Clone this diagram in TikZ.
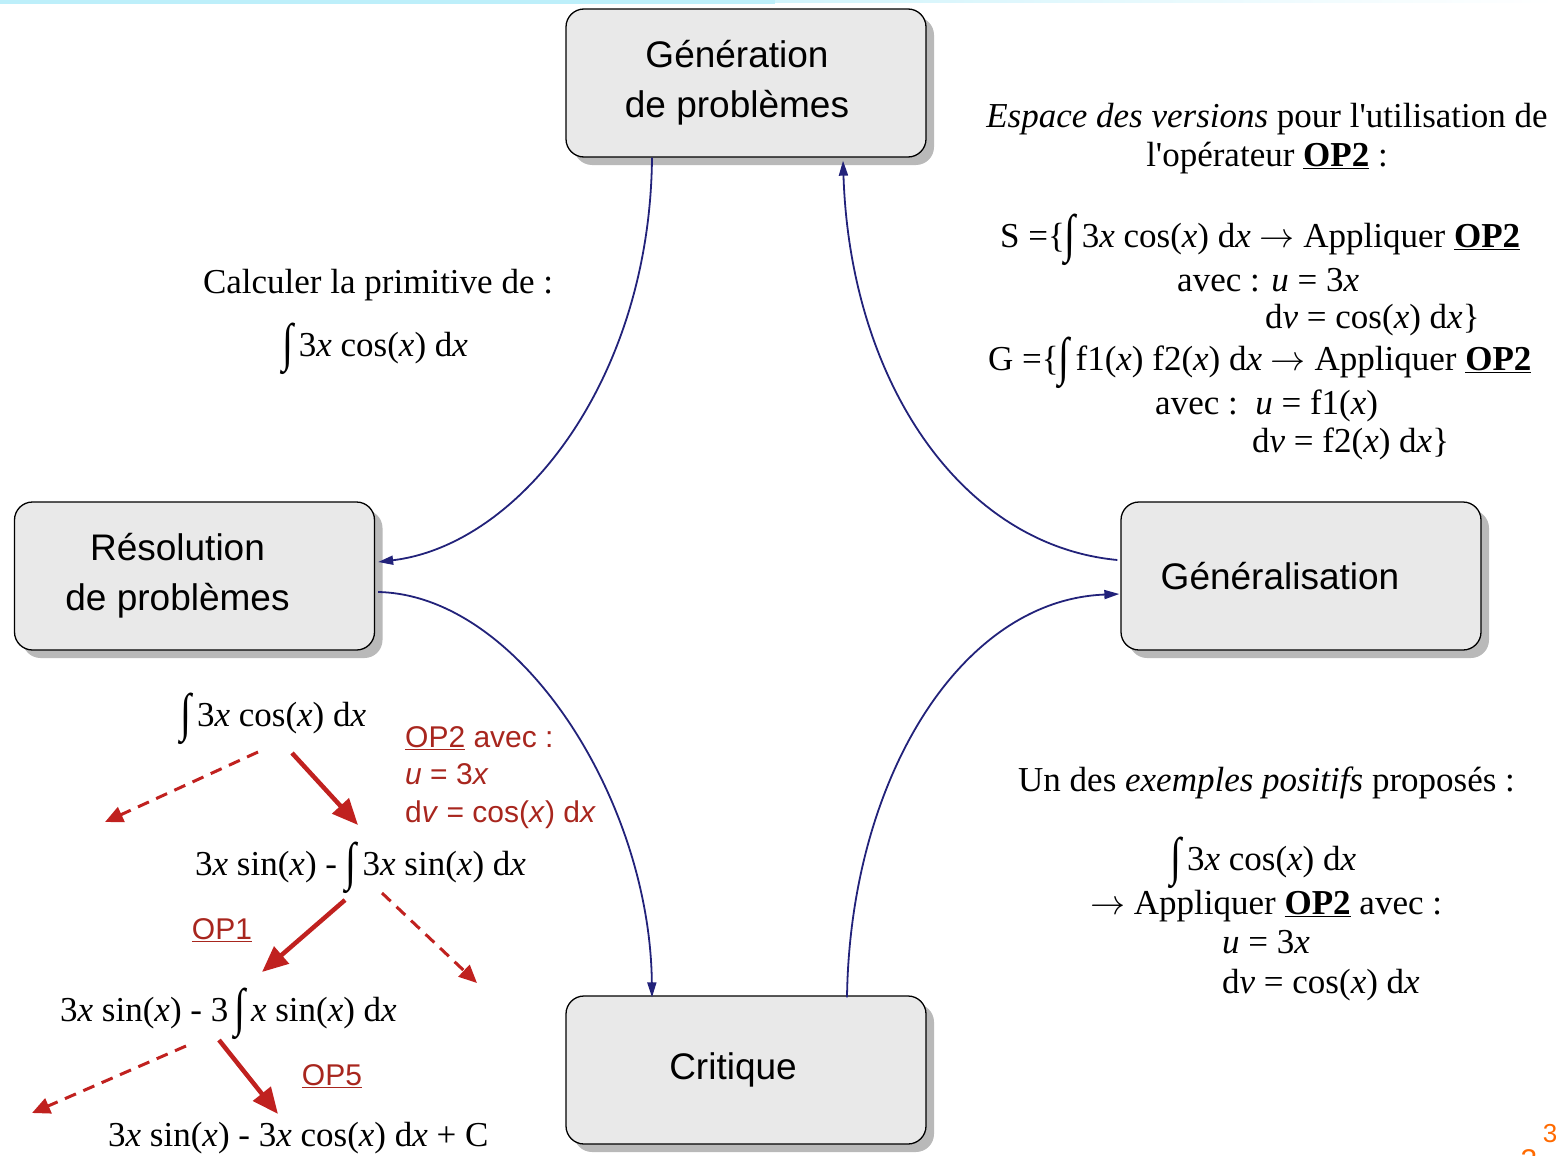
\RequirePackage{fix-cm}
\documentclass[tikz,border=0pt]{standalone}
\usepackage{fontspec}
\usepackage{graphicx}
\setmainfont{Liberation Serif}[Ligatures=TeXOff]
\newfontfamily\boxfont{Liberation Sans}
\usetikzlibrary{arrows.meta,shadows}
\definecolor{navyarr}{HTML}{22227A}
\definecolor{redarr}{HTML}{C0211F}
\definecolor{redtxt}{HTML}{A8261E}
\definecolor{boxfill}{HTML}{E9E9E9}
\definecolor{topcyan}{HTML}{BDEFFA}
\definecolor{orangeno}{HTML}{FF6A00}
\newcommand{\integ}{\raisebox{-0.14em}{\scalebox{1.15}[1.5]{∫}}}
\newcommand{\opb}[1]{\underline{\textbf{#1}}}
\newcommand{\ix}{\textit{x}}
\newcommand{\arr}{$\rightarrow$}
\newcommand{\shl}[1]{\hspace*{-#1pt}}
\begin{document}
\begin{tikzpicture}[x=1pt,y=-1pt,
  procbox/.style={draw=black, line width=1.3pt, fill=boxfill, rounded corners=18pt,
    minimum width=360pt, minimum height=148pt, align=center, inner sep=0pt,
    font=\boxfont\fontsize{37}{50}\selectfont,
    drop shadow={shadow xshift=8pt, shadow yshift=-8pt, fill=gray!55, opacity=1}},
  tx/.style={inner sep=0pt, font=\fontsize{35}{40}\selectfont, text height=24pt, text depth=8pt},
  rtx/.style={inner sep=0pt, text=redtxt, font=\boxfont\fontsize{30}{34}\selectfont, text height=21pt, text depth=6pt},
  conn/.style={draw=navyarr, line width=1.8pt, -{Triangle[length=15pt,width=9pt]}},
  redsolid/.style={draw=redarr, line width=4.5pt, -{Triangle[length=26pt,width=22pt]}},
  reddash/.style={draw=redarr, line width=3pt, dash pattern=on 12pt off 8pt, -{Triangle[length=18pt,width=16pt]}}
]
\path[use as bounding box] (0,0) rectangle (1556,1156);
% top band
\fill[topcyan] (0,0) rectangle (775,4);
\shade[left color=topcyan!70, right color=white] (775,0) rectangle (1556,3);

% boxes
\node[procbox] (gen) at (746,83) {\shl{18}Génération\\\shl{18}de problèmes};
\node[procbox] (res) at (194.5,576) {\shl{34}Résolution\\\shl{34}de problèmes};
\node[procbox] (gnl) at (1301,576) {\shl{42}Généralisation};
\node[procbox] (cri) at (746,1070) {\shl{26}Critique};

% connectors
\draw[conn] ([xshift=-94pt]gen.south) .. controls (650,380) and (520,545) .. ([xshift=3pt,yshift=14pt]res.east);
\draw[conn] ([xshift=-3pt,yshift=16pt]gnl.west) .. controls (960,545) and (850,380) .. ([xshift=97pt,yshift=-3pt]gen.south);
\draw[conn] ([xshift=3pt,yshift=-16pt]res.east) .. controls (520,595) and (650,800) .. ([xshift=-94pt,yshift=-2pt]cri.north);
\draw[conn] ([xshift=101pt,yshift=-2pt]cri.north) .. controls (850,780) and (960,600) .. ([xshift=-1pt,yshift=-18pt]gnl.west);

% left text
\node[tx] (calc) at (378,285) {Calculer la primitive de :};
\node[tx] (calcint) at (375,348) {\integ\,3\ix{} cos(\ix) d\ix};

% top right text
\node[tx] (esp1) at (1267,120) {\textit{Espace des versions} pour l'utilisation de};
\node[tx] (esp2) at (1267,158) {l'opérateur \opb{OP2} :};
\node[tx,anchor=west] (s1) at (1000,239) {S =\{\integ\,3\ix{} cos(\ix) d\ix{} \arr{} Appliquer \opb{OP2}};
\node[tx,anchor=west] (s2) at (1177,283) {avec : \textit{u} = 3\ix};
\node[tx,anchor=west] (s3) at (1265,320) {d\textit{v} = cos(\ix) d\ix\}};
\node[tx,anchor=west] (g1) at (988,362) {G =\{\integ\,f1(\ix) f2(\ix) d\ix{} \arr{} Appliquer \opb{OP2}};
\node[tx,anchor=west] (g2) at (1155,406) {avec :\ \ \textit{u} = f1(\ix)};
\node[tx,anchor=west] (g3) at (1252,444) {d\textit{v} = f2(\ix) d\ix\}};

% bottom right text
\node[tx,anchor=west] (ex1) at (1018,783) {Un des \textit{exemples positifs} proposés :};
\node[tx,anchor=west] (ex2) at (1170,862) {\integ\,3\ix{} cos(\ix) d\ix};
\node[tx,anchor=west] (ex3) at (1090,906) {\arr{} Appliquer \opb{OP2} avec :};
\node[tx,anchor=west] (ex4) at (1222,945) {\textit{u} = 3\ix};
\node[tx,anchor=west] (ex5) at (1222,985) {d\textit{v} = cos(\ix) d\ix};

% tree
\node[tx,anchor=west] (t1) at (180,718) {\integ\,3\ix{} cos(\ix) d\ix};
\node[rtx,anchor=west] (r1) at (405,740) {\underline{OP2} avec :};
\node[rtx,anchor=west] (r2) at (405,777) {\textit{u} = 3\textit{x}};
\node[rtx,anchor=west] (r3) at (405,815) {d\textit{v} = cos(\textit{x}) d\textit{x}};
\node[tx,anchor=west] (t2) at (195,867) {3\ix{} sin(\ix) - \integ\,3\ix{} sin(\ix) d\ix};
\node[rtx] (op1) at (222,932) {\underline{OP1}};
\node[tx,anchor=west] (t3) at (60,1013) {3\ix{} sin(\ix) - 3\,\integ\,\ix{} sin(\ix) d\ix};
\node[rtx] (op5) at (332,1078) {\underline{OP5}};
\node[tx,anchor=west] (t4) at (108,1138) {3\ix{} sin(\ix) - 3\ix{} cos(\ix) d\ix{} + C};

\coordinate (a1s) at (292,753); \coordinate (a1e) at (358,825);
\coordinate (d1s) at (258,752); \coordinate (d1e) at (105,822);
\coordinate (a2s) at (345,900); \coordinate (a2e) at (262,972);
\coordinate (d2s) at (382,893); \coordinate (d2e) at (477,983);
\coordinate (d3s) at (186,1046); \coordinate (d3e) at (32,1113);
\coordinate (a3s) at (219,1040); \coordinate (a3e) at (278,1114);
\draw[redsolid] (a1s) -- (a1e);
\draw[reddash] (d1s) -- (d1e);
\draw[redsolid] (a2s) -- (a2e);
\draw[reddash] (d2s) -- (d2e);
\draw[reddash] (d3s) -- (d3e);
\draw[redsolid] (a3s) -- (a3e);

% page number fragment
\node[text=orangeno, font=\boxfont\fontsize{30}{30}\selectfont, inner sep=0pt] (pn1) at (1529,1160) {3};
\node[text=orangeno, font=\boxfont\fontsize{26}{26}\selectfont, inner sep=0pt] (pn2) at (1550,1134) {3};
\end{tikzpicture}
\end{document}
